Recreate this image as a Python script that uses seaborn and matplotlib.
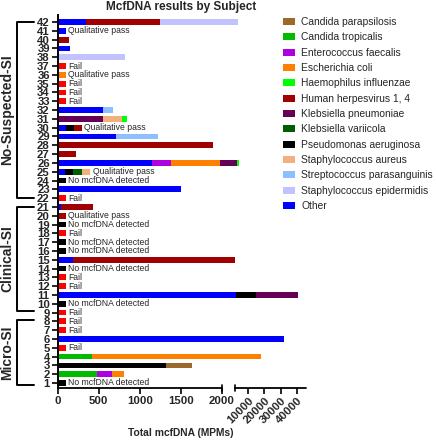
import numpy as np
import pandas as pd
import matplotlib
matplotlib.use("Agg")
import matplotlib.pyplot as plt
import matplotlib.transforms as mtransforms
from matplotlib.patches import Patch
import seaborn as sns

# MPM per organism, keyed by subject (segment widths, stacked left to right)
other = {42: 345, 41: 100, 39: 150, 32: 555, 30: 100, 29: 710, 26: 1150,
         25: 95, 23: 1500, 21: 45, 15: 185, 11: 2680, 6: 31950}
pseudomonas = {30: 97, 25: 97, 11: 12200, 3: 1315}
c_parapsilosis = {3: 315}
c_tropicalis = {4: 418, 2: 485}
e_faecalis = {26: 227, 2: 175}
e_coli = {36: 100, 26: 600, 4: 17480, 2: 145}
hhv = {42: 900, 40: 145, 30: 100, 28: 1890, 27: 220, 21: 390, 20: 100, 15: 1915}
k_pneumoniae = {31: 553, 26: 1314, 11: 25610}
k_variicola = {25: 110}
s_aureus = {31: 235, 25: 97}
h_influenzae = {31: 61, 26: 1220}
s_parasanguinis = {32: 118, 29: 515}
s_epidermidis = {42: 2654, 38: 817}

fail_subjects = [37, 35, 34, 33, 22, 18, 13, 12, 9, 8, 7, 5]
no_dna_subjects = [24, 19, 17, 16, 14, 10, 1]
qual_pass_subjects = [41, 36, 30, 25, 20]
placeholder_mpm = 100

groups = [("No-Suspected-SI", 42, 22), ("Clinical-SI", 21, 9.2), ("Micro-SI", 8.15, 0.75)]

# stacking order (left -> right) and colours
series = [
    ("Other", other, "#0000FF"),
    ("Pseudomonas aeruginosa", pseudomonas, "#000000"),
    ("Candida parapsilosis", c_parapsilosis, "#9B6A2B"),
    ("Candida tropicalis", c_tropicalis, "#00BB00"),
    ("Enterococcus faecalis", e_faecalis, "#AE00E0"),
    ("Escherichia coli", e_coli, "#FF8000"),
    ("Human herpesvirus 1, 4", hhv, "#A00000"),
    ("Klebsiella pneumoniae", k_pneumoniae, "#650055"),
    ("Klebsiella variicola", k_variicola, "#005E00"),
    ("Staphylococcus aureus", s_aureus, "#F2B07E"),
    ("Haemophilus influenzae", h_influenzae, "#00FF00"),
    ("Streptococcus parasanguinis", s_parasanguinis, "#8EC0FF"),
    ("Staphylococcus epidermidis", s_epidermidis, "#C2C2FF"),
    ("Fail", {s: placeholder_mpm for s in fail_subjects}, "#FF0000"),
    ("No mcfDNA", {s: placeholder_mpm for s in no_dna_subjects}, "#000000"),
]
legend_order = ["Candida parapsilosis", "Candida tropicalis", "Enterococcus faecalis",
                "Escherichia coli", "Haemophilus influenzae", "Human herpesvirus 1, 4",
                "Klebsiella pneumoniae", "Klebsiella variicola", "Pseudomonas aeruginosa",
                "Staphylococcus aureus", "Streptococcus parasanguinis",
                "Staphylococcus epidermidis", "Other"]

rows = []
for name, vals, _ in series:
    for subj, v in vals.items():
        rows.append({"subject": subj, "organism": name, "mpm": v})
df = pd.DataFrame(rows)
palette = {name: col for name, _, col in series}
# seaborn stacks the last hue level first, so reverse to get left -> right order
hue_order = [name for name, _, _ in series][::-1]
totals = df.groupby("subject")["mpm"].sum()

sns.set_theme(style="ticks")
plt.rcParams["font.family"] = ["Liberation Sans", "DejaVu Sans"]

W, H = 436, 440
fig = plt.figure(figsize=(W / 100, H / 100), dpi=100)
ax = fig.add_axes([57.5 / W, 1 - 388 / H, 248 / W, 373 / H])

sns.histplot(data=df, y="subject", weights="mpm", hue="organism", hue_order=hue_order,
             palette=palette, multiple="stack", discrete=True, shrink=0.65,
             edgecolor="none", linewidth=0, alpha=1, legend=False, ax=ax)

# broken x axis: 0-2000 linear, then 2000-45000 compressed
W1, GAP, K = 164.5, 12.9, 16.4


def fwd(x):
    x = np.asarray(x, dtype=float)
    return np.where(x <= 2000, x * W1 / 2000, W1 + GAP + (x - 2000) * K / 10000)


def inv(d):
    d = np.asarray(d, dtype=float)
    return np.where(d <= W1, d * 2000 / W1,
                    np.where(d < W1 + GAP, 2000, 2000 + (d - W1 - GAP) * 10000 / K))


ax.set_xscale("function", functions=(fwd, inv))
ax.set_xlim(0, 45000)
ax.set_ylim(0.43, 42.8)

xticks = [0, 500, 1000, 1500, 2000, 10000, 20000, 30000, 40000]
ax.set_xticks(xticks)
ax.set_xticklabels([str(t) for t in xticks])
ax.minorticks_off()
ax.set_yticks(range(1, 43))
ax.set_yticklabels([str(i) for i in range(1, 43)])
ax.set_xlabel("")
ax.set_ylabel("")
ax.tick_params(axis="both", direction="out", length=4, width=1.2, color="black",
               labelsize=8.2, pad=1.5)
for lbl in ax.get_yticklabels() + ax.get_xticklabels():
    lbl.set_fontweight("bold")
for lbl in ax.get_xticklabels()[5:]:
    lbl.set_rotation(45)
    lbl.set_ha("right")
    lbl.set_rotation_mode("anchor")

sns.despine(ax=ax, top=True, right=True, bottom=True)
ax.spines["left"].set_linewidth(1.4)
ax.spines["left"].set_color("black")
xtr = ax.get_xaxis_transform()
for x0, x1 in [(0, 2000), (2000.01, 45000)]:
    ax.plot([x0, x1], [0, 0], transform=xtr, color="black", lw=1.3, clip_on=False)
for xc in [2000, 2000.01]:
    ax.plot([xc, xc], [-0.009, 0.009], transform=xtr, color="black", lw=1.2, clip_on=False)

# status notes next to bars
for s in fail_subjects:
    ax.text(totals[s] + 31, s, "Fail", fontsize=6.2, va="center", ha="left")
for s in no_dna_subjects:
    ax.text(totals[s] + 31, s, "No mcfDNA detected", fontsize=6.2, va="center", ha="left")
for s in qual_pass_subjects:
    ax.text(totals[s] + 31, s, "Qualitative pass", fontsize=6.2, va="center", ha="left")

# group brackets
btr = mtransforms.blended_transform_factory(fig.transFigure, ax.transData)
xb, xe = 17 / W, 34 / W
for label, top, bot in groups:
    ax.plot([xe, xb, xb, xe], [top, top, bot, bot], transform=btr, color="black",
            lw=1.4, clip_on=False)
    ax.text(7.5 / W, (top + bot) / 2, label, transform=btr, rotation=90, ha="center",
            va="center", fontsize=10, fontweight="bold")

handles = [Patch(facecolor=palette[n], edgecolor="none", label=n) for n in legend_order]
fig.legend(handles=handles, loc="upper left", bbox_to_anchor=(283 / W, 1 - 17 / H),
           frameon=False, fontsize=7.4, borderpad=0, borderaxespad=0,
           handlelength=1.17, handleheight=0.65, handletextpad=0.6, labelspacing=0.52)

fig.text(181 / W, 1 - 7 / H, "McfDNA results by Subject", ha="center", va="center",
         fontsize=8.5, fontweight="bold")
fig.text(181 / W, 1 - 433 / H, "Total mcfDNA (MPMs)", ha="center", va="center",
         fontsize=7.4, fontweight="bold")

fig.savefig("out.png", dpi=100)
